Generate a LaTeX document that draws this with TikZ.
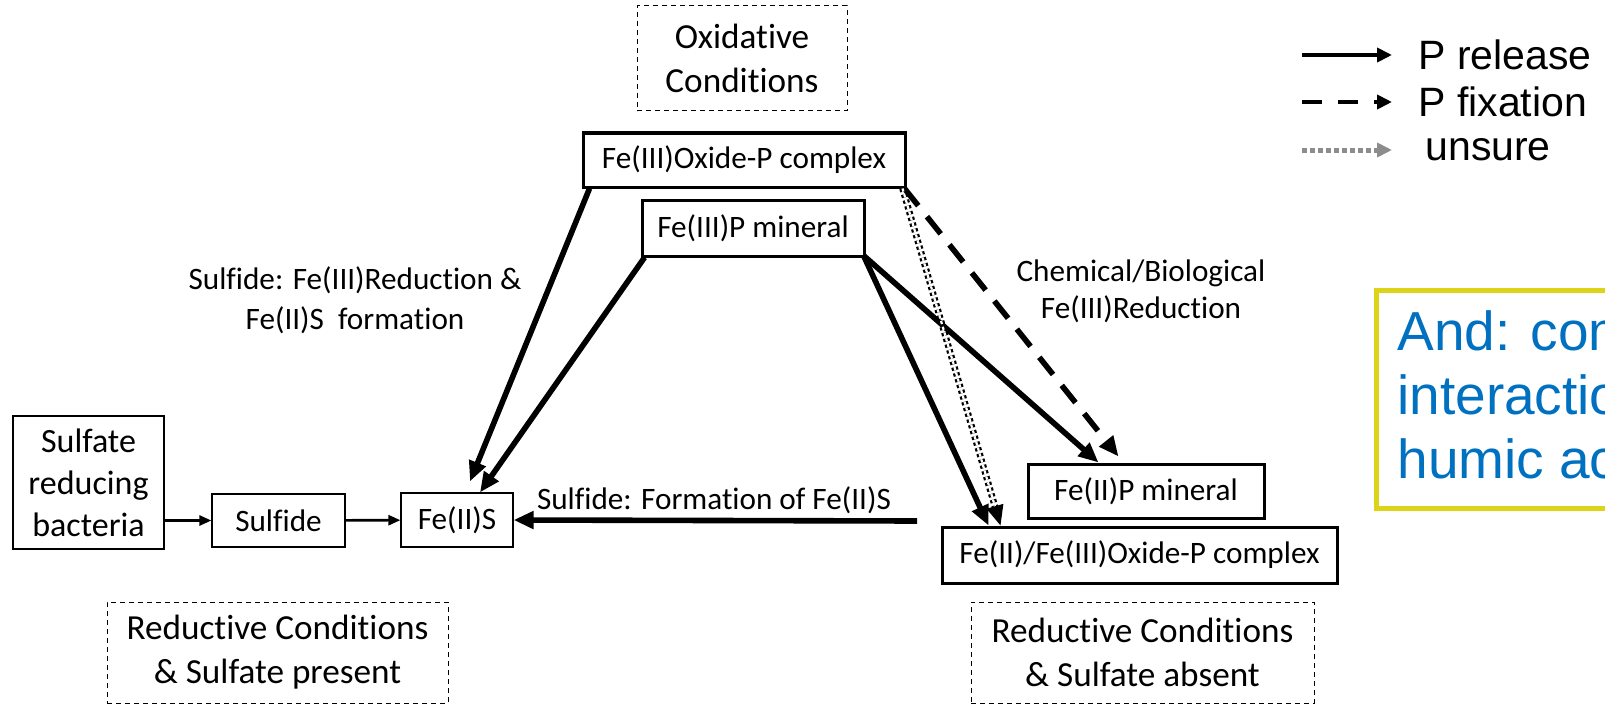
\documentclass[tikz,border=0pt]{standalone}
\usepackage{fontspec}
\setmainfont{Carlito}[Ligatures=CommonOff]
\newfontfamily\arialfont{Liberation Sans}
\usetikzlibrary{arrows.meta}
\definecolor{boxyellow}{RGB}{221,211,24}
\definecolor{noteblue}{RGB}{0,112,192}
\definecolor{unsuregray}{RGB}{140,140,140}

\begin{document}
\begin{tikzpicture}[x=0.5pt,y=-0.5pt,
  every node/.style={inner sep=0pt, font=\fontsize{15.6}{20}\selectfont},
  thinbox/.style={draw, line width=0.6pt, align=center},
  thickbox/.style={draw, line width=1.5pt, align=center},
  condbox/.style={draw, line width=0.5pt, dash pattern=on 2.5pt off 2pt, align=center, font=\fontsize{17.6}{22}\selectfont},
  smallarrow/.style={line width=1.3pt, -{Triangle[length=6pt,width=5pt]}},
  release/.style={line width=2.8pt, -{Triangle[length=10pt,width=8.5pt]}},
  fixation/.style={release, dash pattern=on 11pt off 7pt},
  unsure/.style={line width=1.1pt, double, double distance=1.1pt, dash pattern=on 1.6pt off 1.4pt, -{Triangle[length=10pt,width=8.5pt,fill=black]}},
  legendtext/.style={anchor=west, font=\arialfont\fontsize{20.5}{24}\selectfont}
]
\useasboundingbox (0,0) rectangle (1605,706);

% boxes
\node[condbox, minimum width=105pt, minimum height=52.5pt] (oxid) at (742,58.5) {Oxidative\\Conditions};
\node[thickbox, minimum width=161pt, minimum height=27pt] (fe3ox) at (744,160) {Fe(III)Oxide-P complex};
\node[thickbox, minimum width=111pt, minimum height=28pt] (fe3p) at (753,228) {Fe(III)P mineral};
\node[thickbox, minimum width=118pt, minimum height=27pt] (fe2p) at (1146,491) {Fe(II)P mineral};
\node[thickbox, minimum width=197.5pt, minimum height=28pt] (fe2ox) at (1139.5,555) {Fe(II)/Fe(III)Oxide-P complex};
\node[thinbox, minimum width=56pt, minimum height=27pt] (fe2s) at (457,520) {Fe(II)S};
\node[thinbox, minimum width=66.5pt, minimum height=26.5pt] (sulfide) at (278.5,520.5) {Sulfide};
\node[thinbox, minimum width=75.5pt, minimum height=66.5pt, font=\fontsize{17}{21}\selectfont] (srb) at (88.5,482.5) {Sulfate\\reducing\\bacteria};
\node[condbox, minimum width=170.5pt, minimum height=50.5pt] (redpres) at (277.5,652.5) {Reductive Conditions\\\& Sulfate present};
\node[condbox, minimum width=171.5pt, minimum height=50.5pt] (redabs) at (1142.5,652.5) {Reductive Conditions\\\& Sulfate absent};

% labels
\node[align=center] (lblsulf) at (355,300) {Sulfide: Fe(III)Reduction \&\\Fe(II)S~~formation};
\node[align=center, font=\fontsize{15.6}{18.5}\selectfont] (lblchem) at (1141,291) {Chemical/Biological\\Fe(III)Reduction};
\node (lblform) at (714,500) {Sulfide: Formation of Fe(II)S};

% sulfate pathway
\draw[smallarrow] (srb.east |- sulfide) -- (sulfide);
\draw[smallarrow] (sulfide) -- (fe2s);
\draw[release] ([xshift=4pt]fe3ox.south west) -- ([xshift=6.5pt,yshift=5.5pt]fe2s.north);
\draw[release] ([xshift=2pt]fe3p.south west) -- ([xshift=11.5pt]fe2s.north);
\coordinate (hstart) at (917,521);
\draw[release] (hstart) -- (fe2s.east);

% iron reduction
\draw[release] ([xshift=-1pt,yshift=1pt]fe3p.south east) -- ([xshift=24pt]fe2ox.north west);
\draw[release] ([xshift=-1pt,yshift=1pt]fe3p.south east) -- ([xshift=36pt]fe2p.north west);
\draw[fixation] ([xshift=-1pt]fe3ox.south east) -- ([xshift=46pt,yshift=3pt]fe2p.north west);
\draw[unsure] ([xshift=-2pt]fe3ox.south east) -- ([xshift=30pt]fe2ox.north west);

% legend
\coordinate (relA) at (1302,55);
\coordinate (relB) at (1392,55);
\coordinate (fixA) at (1302,102);
\coordinate (fixB) at (1392,102);
\coordinate (unsA) at (1302,150);
\coordinate (unsB) at (1392,150);
\draw[line width=2pt, -{Triangle[length=7.5pt,width=7pt]}] (relA) -- (relB);
\draw[line width=2pt, dash pattern=on 10pt off 8pt, -{Triangle[length=7.5pt,width=7pt]}] (fixA) -- (fixB);
\draw[unsuregray, line width=2.5pt, dash pattern=on 2.5pt off 1.5pt, -{Triangle[length=7.5pt,width=7pt]}] (unsA) -- (unsB);
\node[legendtext] (relT) at (1418,55) {P release};
\node[legendtext] (fixT) at (1418,102) {P fixation};
\node[legendtext] (unsT) at (1425,150) {unsure};

% note box, cut at the right edge
\draw[boxyellow, line width=2.5pt] (1376,290) rectangle (1660,508);
\node[anchor=base west, text=noteblue, font=\arialfont\fontsize{27.5}{32}\selectfont] (note1) at (1397,350) {And: com};
\node[anchor=base west, text=noteblue, font=\arialfont\fontsize{27.5}{32}\selectfont] (note2) at (1397,414) {interactio};
\node[anchor=base west, text=noteblue, font=\arialfont\fontsize{27.5}{32}\selectfont] (note3) at (1397,478) {humic ac};

\end{tikzpicture}
\end{document}
